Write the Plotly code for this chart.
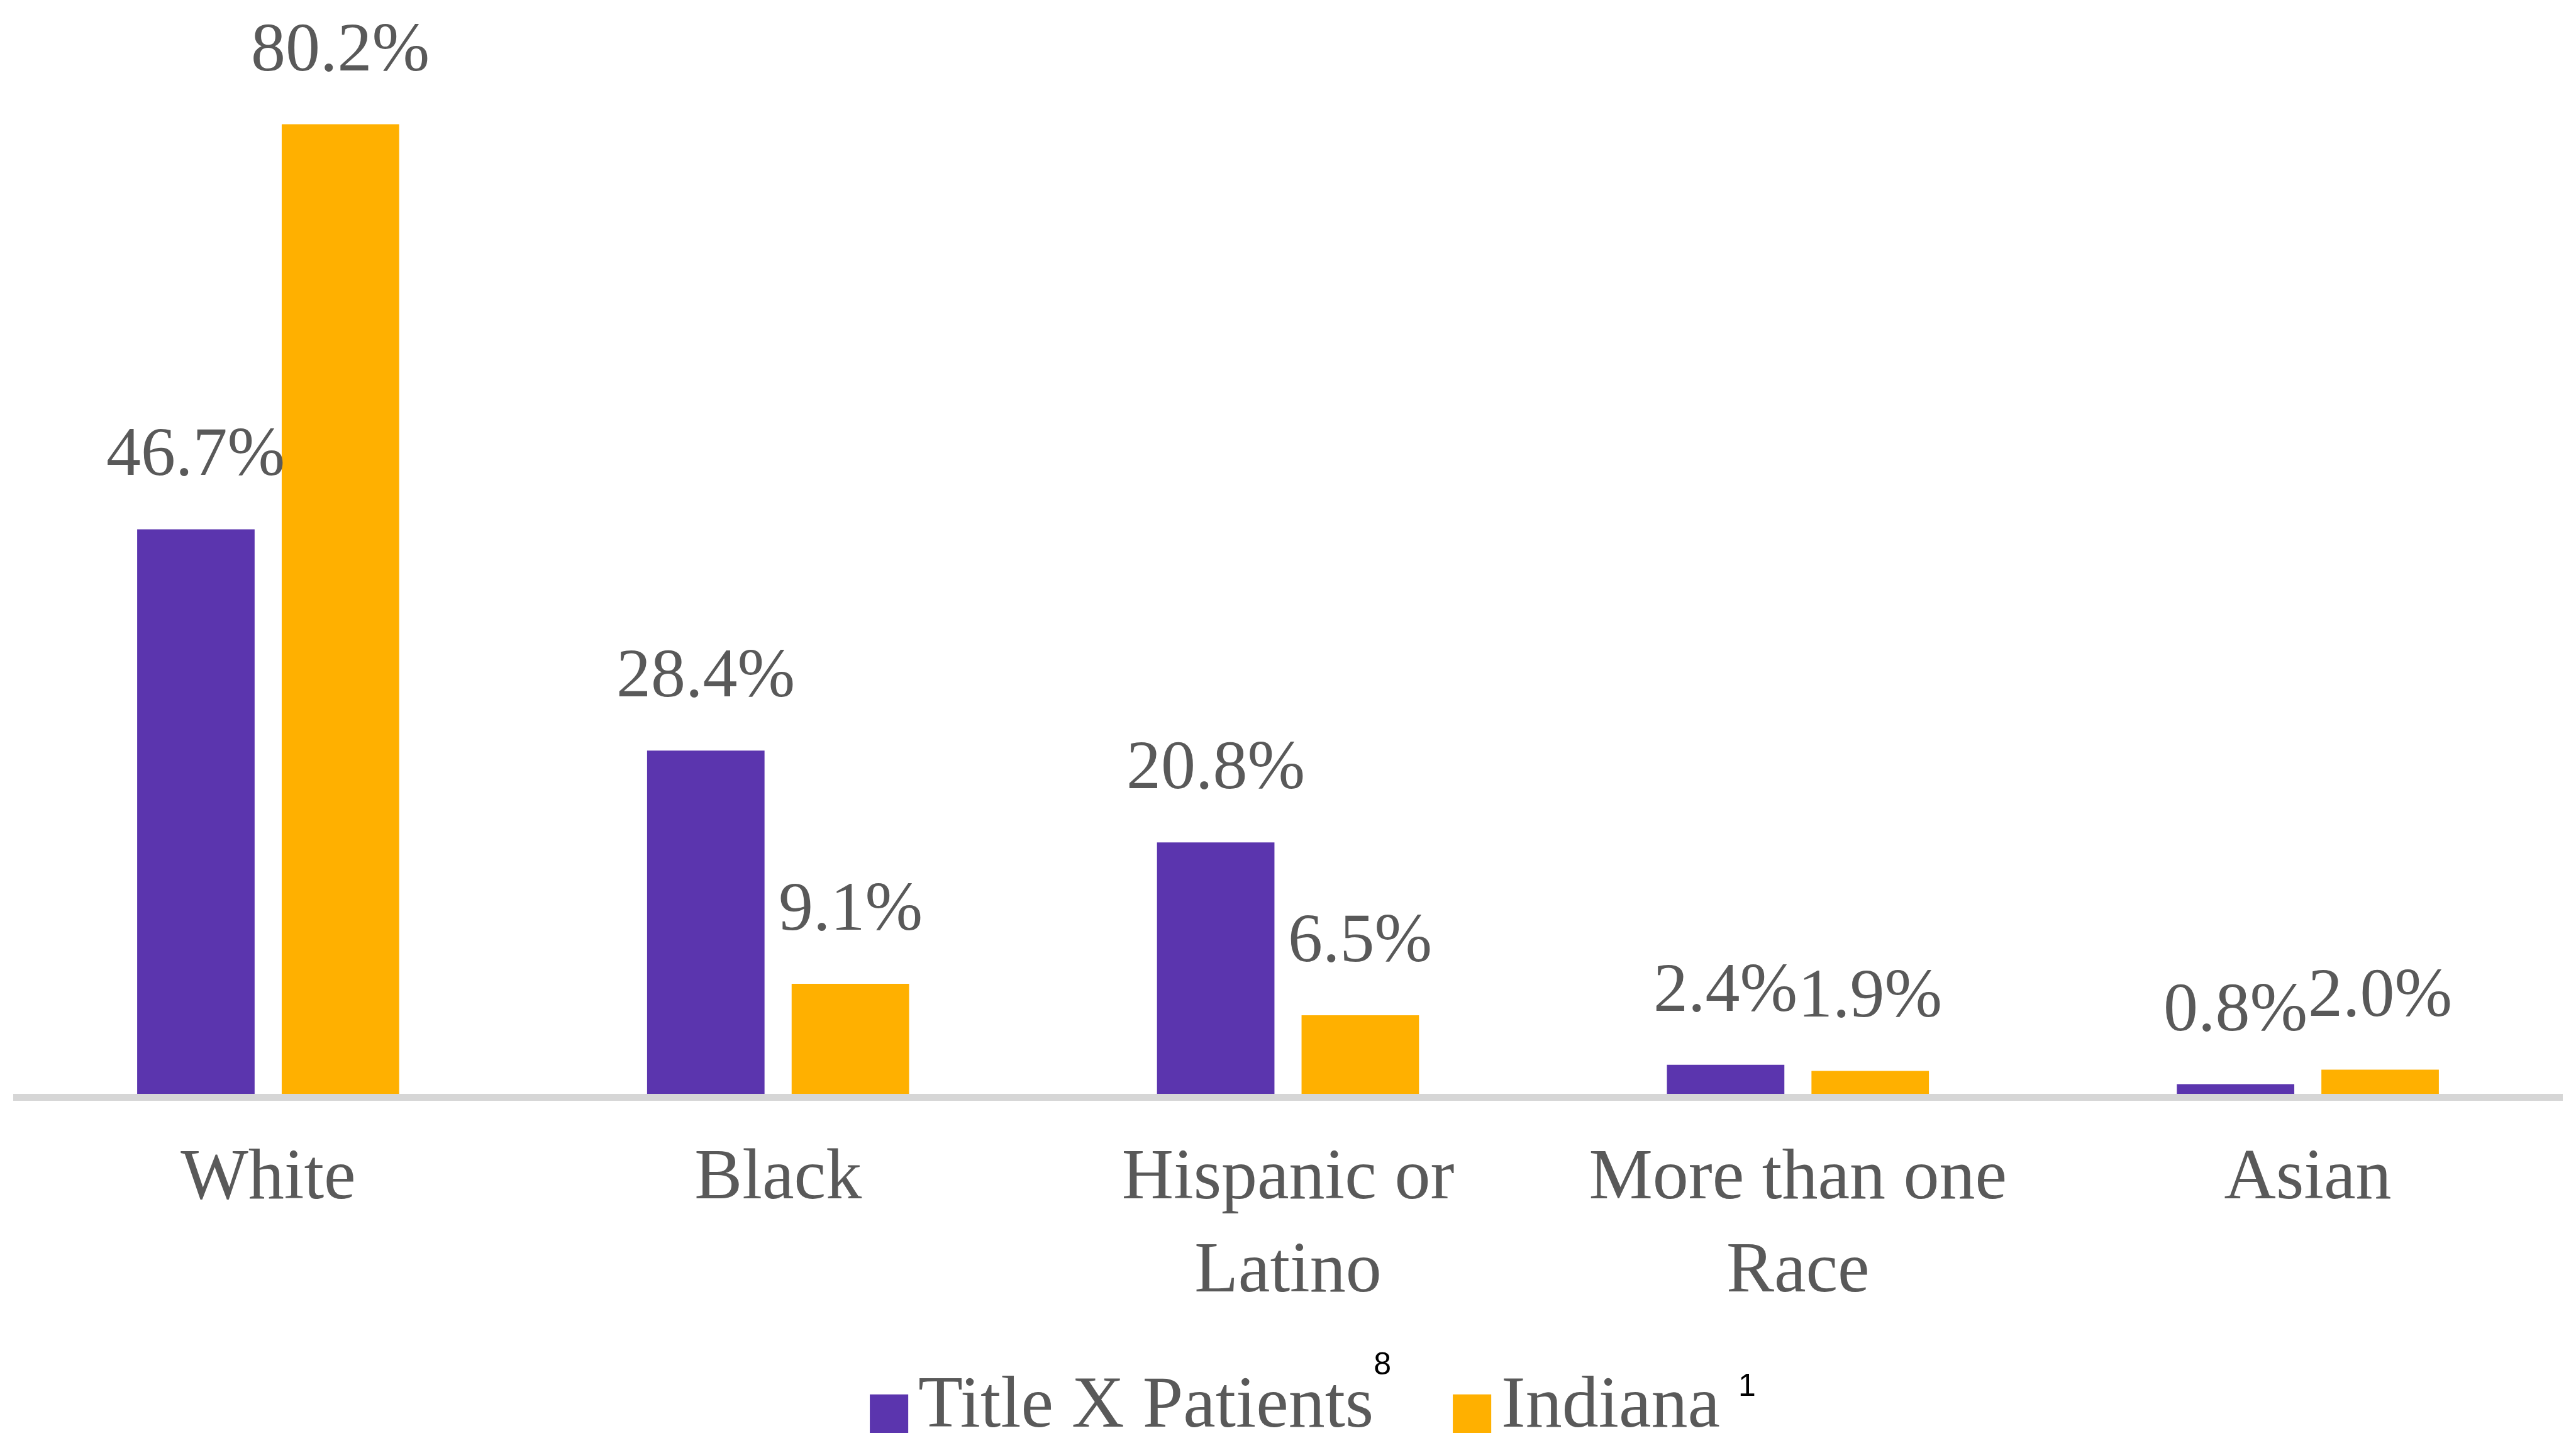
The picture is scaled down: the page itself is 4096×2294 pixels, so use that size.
import plotly.graph_objects as go

categories = ["White", "Black", "Hispanic or<br>Latino", "More than one<br>Race", "Asian"]
title_x = [46.7, 28.4, 20.8, 2.4, 0.8]
indiana = [80.2, 9.1, 6.5, 1.9, 2.0]
series_names = ["Title X Patients", "Indiana"]
series_refs = ["8", "1"]
colors = ["#5B35AE", "#FFB000"]

# the page body has an 8px margin, so the figure is 8px smaller than the window
W, H = 4088, 2286
ML, MR, MT, MB = 13, 21, 12, 555
PLOT_W = W - ML - MR
PLOT_H = H - MT - MB
BARGAP, GROUPGAP = 0.433, 0.1875
TEXT = "#595959"
FONT = "Liberation Serif"
PX_PER_UNIT = 19.22
ymax = PLOT_H / PX_PER_UNIT


def px_to_paper_x(px):
    return (px - ML) / PLOT_W


def px_to_paper_y(py):
    return (H - MB - py) / PLOT_H


fig = go.Figure()
for name, vals, col in zip(series_names, [title_x, indiana], colors):
    fig.add_trace(go.Bar(x=categories, y=vals, name=name, marker=dict(color=col, line=dict(width=0)),
                         showlegend=False, hoverinfo="skip"))

# legend entries with large square swatches (one legend per entry for exact placement)
legend_ids = ["legend", "legend2"]
sups = ["<sup><sup><span style='color:#000000;font-family:Liberation Sans;font-size:50px'>{}</span></sup></sup>",
        " <sup><span style='color:#000000;font-family:Liberation Sans;font-size:50px'>{}</span></sup>"]
for name, ref, col, lid, sup in zip(series_names, series_refs, colors, legend_ids, sups):
    label = (f"<span style='color:{col};font-family:DejaVu Sans;font-size:80px'>■</span>"
             f"<span style='font-size:34px'> </span>{name}" + sup.format(ref))
    fig.add_trace(go.Scatter(x=[None], y=[None], mode="markers", name=label, legend=lid,
                             marker=dict(color="rgba(0,0,0,0)", size=2), showlegend=True))

# data labels
cat_w = PLOT_W / len(categories)
slot = cat_w * (1 - BARGAP) / 2
for i, vals in enumerate([title_x, indiana]):
    shift = -slot / 2 if i == 0 else slot / 2
    for c, v in zip(categories, vals):
        fig.add_annotation(x=c, y=v, xref="x", yref="y", text=f"{v:.1f}%", showarrow=False,
                           xshift=shift, yanchor="bottom", yshift=60,
                           font=dict(family=FONT, size=110, color=TEXT))

legend_common = dict(orientation="h", xanchor="left", yref="paper", yanchor="bottom",
                     font=dict(family=FONT, size=116, color=TEXT), itemwidth=30,
                     bgcolor="rgba(0,0,0,0)", borderwidth=0)
leg_y = px_to_paper_y(2297)

fig.update_layout(
    width=W, height=H,
    margin=dict(l=ML, r=MR, t=MT, b=MB, pad=0, autoexpand=False),
    paper_bgcolor="white", plot_bgcolor="white",
    barmode="group", bargap=BARGAP, bargroupgap=GROUPGAP,
    font=dict(family=FONT, size=112, color=TEXT),
    legend=dict(x=px_to_paper_x(1328), y=leg_y, **legend_common),
    legend2=dict(x=px_to_paper_x(2255), y=leg_y, **legend_common),
    xaxis=dict(showline=True, linecolor="#D6D6D6", linewidth=11, ticks="", showgrid=False,
               zeroline=False, tickfont=dict(family=FONT, size=114, color=TEXT), automargin=False,
               ticklabelstandoff=18, layer="below traces"),
    yaxis=dict(visible=False, range=[0, ymax], showgrid=False, zeroline=False),
)

fig.write_html("out.html")
